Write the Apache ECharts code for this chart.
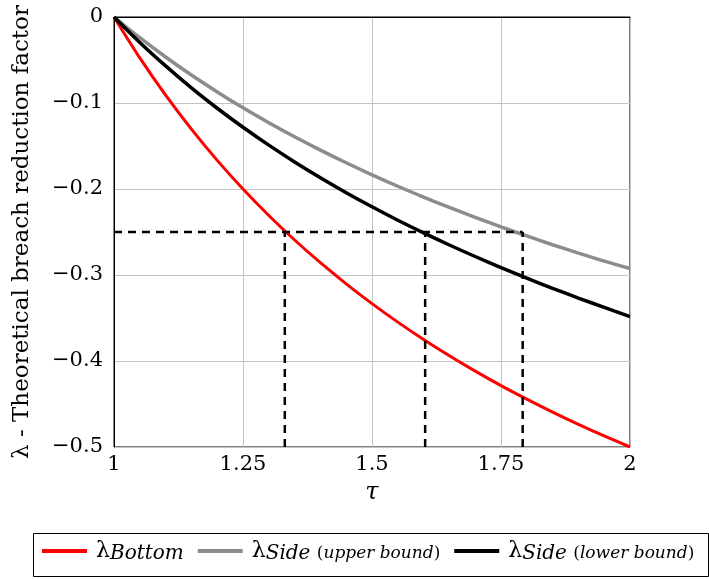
<!DOCTYPE html>
<html>
<head>
<meta charset="utf-8">
<script src="https://cdn.jsdelivr.net/npm/echarts@6/dist/echarts.min.js"></script>
<style>html,body{margin:0;padding:0;background:#fff;}#c{width:709px;height:579px;}</style>
</head>
<body>
<div id="c"></div>
<script>
var tau = [1, 1.05, 1.1, 1.15, 1.2, 1.25, 1.3, 1.35, 1.4, 1.45, 1.5, 1.55, 1.6, 1.65, 1.7, 1.75, 1.8, 1.85, 1.9, 1.95, 2];
var lambdaBottom = [0, -0.0476, -0.0909, -0.1304, -0.1667, -0.2, -0.2308, -0.2593, -0.2857, -0.3103, -0.3333, -0.3548, -0.375, -0.3939, -0.4118, -0.4286, -0.4444, -0.4595, -0.4737, -0.4872, -0.5];
var lambdaSideUpper = [0, -0.0241, -0.0465, -0.0675, -0.0871, -0.1056, -0.1229, -0.1393, -0.1548, -0.1695, -0.1835, -0.1968, -0.2094, -0.2215, -0.233, -0.2441, -0.2546, -0.2648, -0.2745, -0.2839, -0.2925];
var lambdaSideLower = [0, -0.0296, -0.0569, -0.0824, -0.1061, -0.1282, -0.149, -0.1685, -0.1869, -0.2043, -0.2207, -0.2363, -0.251, -0.2651, -0.2785, -0.2914, -0.3037, -0.3155, -0.3268, -0.3377, -0.3485];
var refLevel = -0.25;
var crossTau = [1.331, 1.603, 1.792];
var xTicks = [1, 1.25, 1.5, 1.75, 2];
var yTicks = [-0.5, -0.4, -0.3, -0.2, -0.1, 0];

var FONT = 'DejaVu Serif';
function pairs(xs, ys) { return xs.map(function (x, i) { return [x, ys[i]]; }); }

var series = [
  { name: 'bottom', type: 'line', data: pairs(tau, lambdaBottom), showSymbol: false, smooth: 0.3, lineStyle: { color: '#ff0000', width: 3 }, itemStyle: { color: '#ff0000' }, z: 5 },
  { name: 'upper', type: 'line', data: pairs(tau, lambdaSideUpper), showSymbol: false, smooth: 0.3, lineStyle: { color: '#8c8c8c', width: 3.5 }, itemStyle: { color: '#8c8c8c' }, z: 4 },
  { name: 'lower', type: 'line', data: pairs(tau, lambdaSideLower), showSymbol: false, smooth: 0.3, lineStyle: { color: '#000000', width: 3.5 }, itemStyle: { color: '#000000' }, z: 6 },
  { name: 'refH', type: 'line', data: [[xTicks[0], refLevel], [crossTau[2], refLevel]], showSymbol: false, lineStyle: { color: '#000', width: 2.5, type: [8, 6] }, z: 7, silent: true }
];
crossTau.forEach(function (t, i) {
  series.push({ name: 'refV' + i, type: 'line', data: [[t, yTicks[0]], [t, refLevel]], showSymbol: false, lineStyle: { color: '#000', width: 2.5, type: [8, 6] }, z: 7, silent: true });
});

var legendLabels = {
  bottom: '{l|λ}{s|Bottom}',
  upper: '{l|λ}{s|Side }{p|(}{t|upper bound}{p|)}',
  lower: '{l|λ}{s|Side }{p|(}{t|lower bound}{p|)}'
};

var chart = echarts.init(document.getElementById('c'), null, { renderer: 'canvas' });
chart.setOption({
  animation: false,
  backgroundColor: '#fff',
  textStyle: { fontFamily: FONT },
  grid: { left: 114, right: 79, top: 17, bottom: 132, show: true, borderColor: '#000', borderWidth: 1, backgroundColor: 'transparent', containLabel: false, outerBoundsMode: 'none' },
  xAxis: {
    type: 'value', min: 1, max: 2, interval: 0.25,
    name: 'τ', nameLocation: 'middle', nameGap: 34,
    nameTextStyle: { fontFamily: FONT, fontSize: 24, fontStyle: 'italic', color: '#000' },
    axisLine: { show: true, lineStyle: { color: '#000', width: 1 } },
    axisTick: { show: false },
    axisLabel: { fontFamily: FONT, fontSize: 21, color: '#000', margin: 7 },
    splitLine: { show: true, lineStyle: { color: '#c4c4c4', width: 1 } }
  },
  yAxis: {
    type: 'value', min: -0.5, max: 0, interval: 0.1,
    name: 'λ - Theoretical breach reduction factor', nameLocation: 'middle', nameGap: 80, nameRotate: 90,
    nameTextStyle: { fontFamily: FONT, fontSize: 23, color: '#000' },
    axisLine: { show: true, lineStyle: { color: '#000', width: 1 } },
    axisTick: { show: false },
    axisLabel: {
      color: '#000', margin: 11, fontFamily: FONT, fontSize: 21,
      formatter: function (v) {
        var r = Math.round(v * 10) / 10;
        return r === 0 ? '0' : '−' + Math.abs(r).toString();
      }
    },
    splitLine: { show: true, lineStyle: { color: '#c4c4c4', width: 1 } }
  },
  graphic: [{
    type: 'rect', left: 33, top: 533, z: 0,
    shape: { width: 675, height: 43 },
    style: { fill: '#fff', stroke: '#000', lineWidth: 1 }
  }],
  legend: {
    data: ['bottom', 'upper', 'lower'],
    left: 42, top: 540,
    orient: 'horizontal',
    padding: 0,
    itemGap: 14, itemWidth: 45, itemHeight: 4,
    icon: 'rect',
    z: 10,
    formatter: function (n) { return legendLabels[n]; },
    textStyle: {
      color: '#000', fontFamily: FONT,
      rich: {
        l: { fontFamily: FONT, fontSize: 22, color: '#000', padding: [0, 0, 0, 4] },
        s: { fontFamily: FONT, fontSize: 20, fontStyle: 'italic', color: '#000', padding: [6, 0, 0, 0] },
        t: { fontFamily: FONT, fontSize: 17, fontStyle: 'italic', color: '#000', padding: [6, 0, 0, 0] },
        p: { fontFamily: FONT, fontSize: 17, color: '#000', padding: [6, 0, 0, 0] }
      }
    }
  },
  series: series
});
</script>
</body>
</html>
